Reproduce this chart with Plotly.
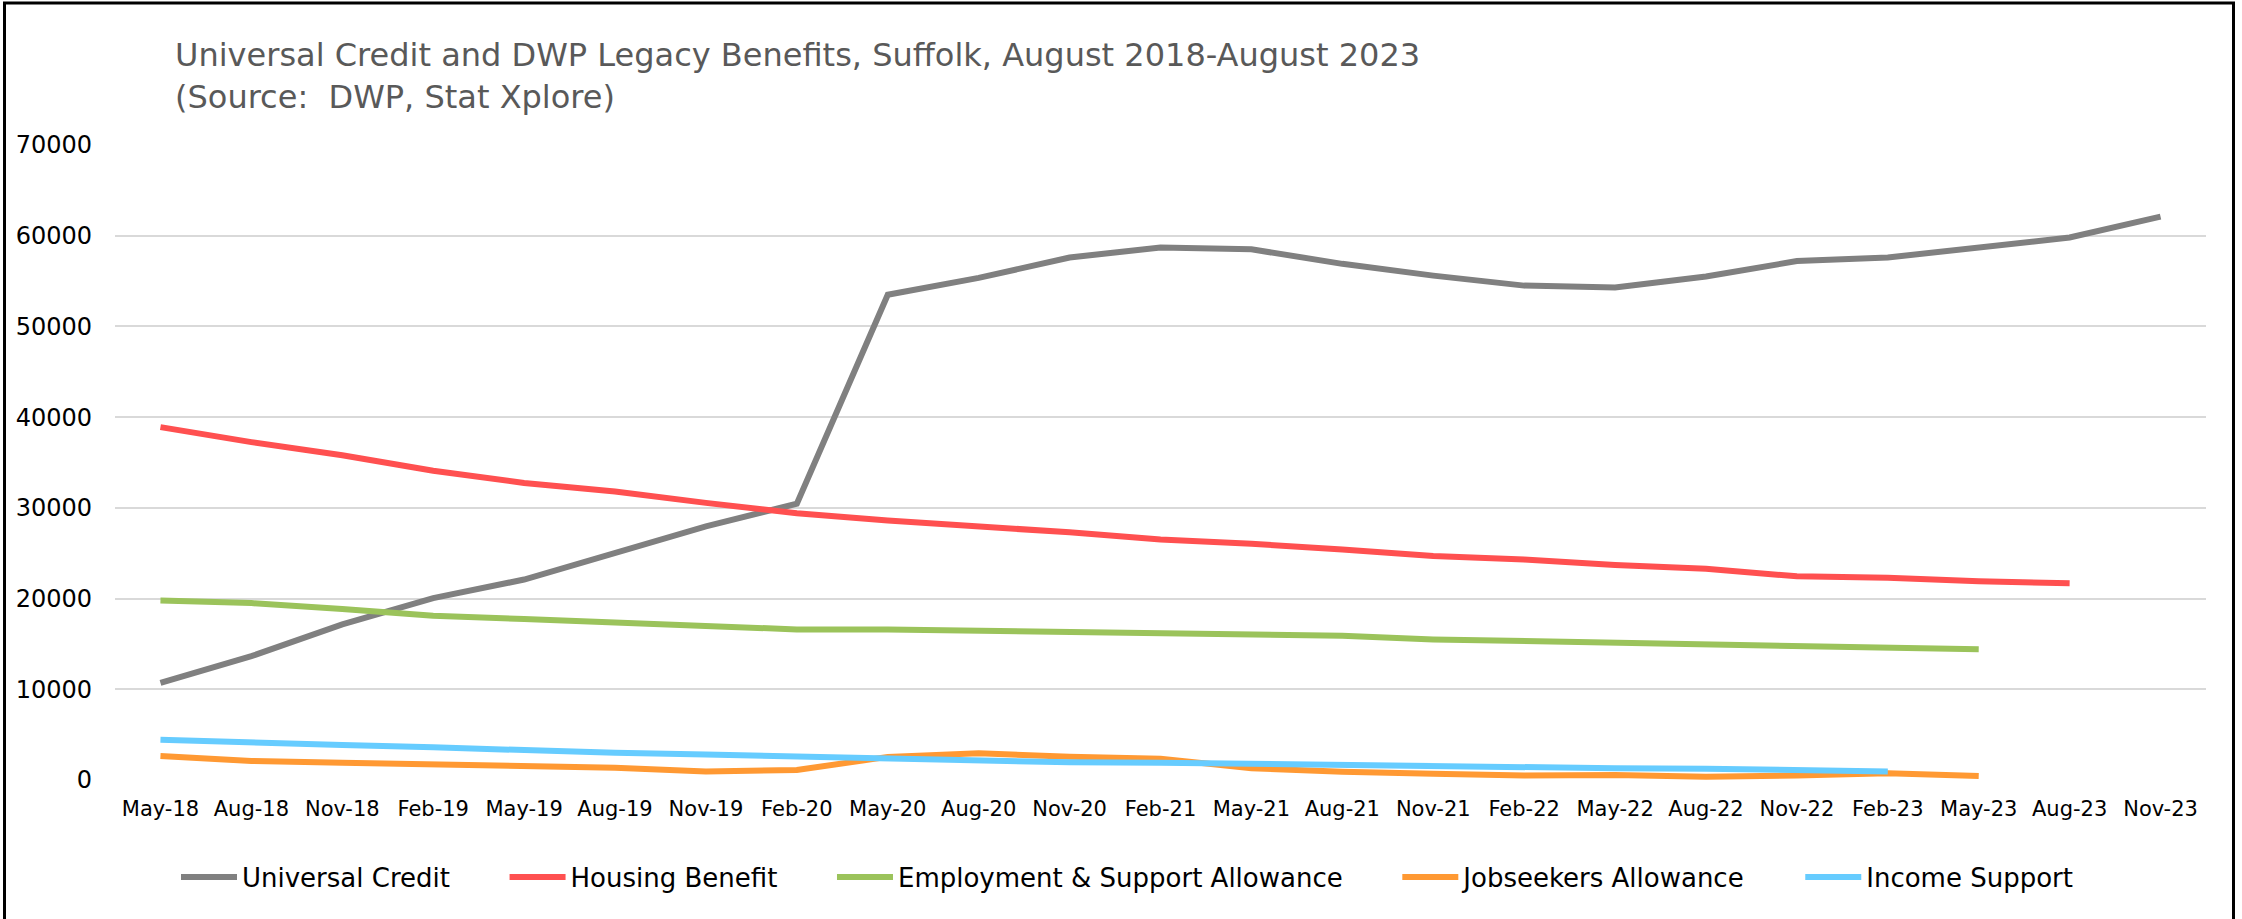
import plotly.graph_objects as go

months = ["May-18", "Aug-18", "Nov-18", "Feb-19", "May-19", "Aug-19", "Nov-19", "Feb-20",
          "May-20", "Aug-20", "Nov-20", "Feb-21", "May-21", "Aug-21", "Nov-21", "Feb-22",
          "May-22", "Aug-22", "Nov-22", "Feb-23", "May-23", "Aug-23", "Nov-23"]

universal_credit = [10700, 13650, 17150, 20050, 22100, 25050, 27950, 30450, 53500, 55350,
                    57600, 58700, 58500, 56900, 55600, 54500, 54300, 55500, 57200, 57600,
                    58700, 59800, 62100]
housing_benefit = [38900, 37250, 35800, 34100, 32750, 31800, 30550, 29400, 28600, 28000,
                   27300, 26500, 26050, 25400, 24700, 24300, 23700, 23300, 22450, 22300,
                   21900, 21700]
esa = [19800, 19500, 18850, 18100, 17750, 17400, 17100, 16600, 16600, 16450, 16250, 16100,
       16000, 15900, 15500, 15300, 15100, 14950, 14800, 14600, 14400]
jsa = [2650, 2100, 1900, 1700, 1550, 1350, 950, 1100, 2550, 2950, 2550, 2350, 1300, 900,
       700, 500, 550, 350, 500, 750, 450]
income_support = [4450, 4100, 3850, 3600, 3250, 3000, 2800, 2550, 2350, 2150, 1950, 1900,
                  1750, 1650, 1600, 1450, 1300, 1250, 1150, 950]

series = [
    ("Universal Credit", universal_credit, "#808080"),
    ("Housing Benefit", housing_benefit, "#FF5050"),
    ("Employment & Support Allowance", esa, "#9BC35B"),
    ("Jobseekers Allowance", jsa, "#FF9933"),
    ("Income Support", income_support, "#66CCFF"),
]

y_ticks = [0, 10000, 20000, 30000, 40000, 50000, 60000, 70000]

FONT = "DejaVu Sans"
PAD = "\u00a0" * 6

fig = go.Figure()
for i, (name, vals, color) in enumerate(series):
    label = name + (PAD if i < len(series) - 1 else "")
    fig.add_trace(go.Scatter(
        x=months[:len(vals)], y=vals, name=label, mode="lines",
        line=dict(color=color, width=6, shape="linear"),
    ))

W, H = 2242, 919
L, R, T, B = 115, 36, 145, 139
pw, ph = W - L - R, H - T - B


def px_to_paper_x(px):
    return (px - L) / pw


def px_to_paper_y(py):
    return (H - B - py) / ph


fig.update_layout(
    width=W, height=H,
    margin=dict(l=L, r=R, t=T, b=B, pad=0),
    paper_bgcolor="white", plot_bgcolor="white",
    font=dict(family=FONT, color="#000000"),
    showlegend=True,
    legend=dict(
        orientation="h", x=px_to_paper_x(1127), xanchor="center",
        y=px_to_paper_y(877), yanchor="middle",
        font=dict(size=26, family=FONT, color="#000000"),
        itemwidth=56, bgcolor="rgba(0,0,0,0)",
    ),
    xaxis=dict(
        type="category", categoryorder="array", categoryarray=months,
        range=[-0.5, len(months) - 0.5],
        showgrid=False, zeroline=False, showline=False, ticks="",
        tickfont=dict(size=21, family=FONT, color="#000000"),
        ticklabelstandoff=14, fixedrange=True,
    ),
    yaxis=dict(
        range=[0, 70000], tickvals=y_ticks, ticktext=[str(v) for v in y_ticks],
        showgrid=True, gridcolor="#D9D9D9", gridwidth=2,
        zeroline=False, showline=False, ticks="",
        tickfont=dict(size=24, family=FONT, color="#000000"),
        ticklabelstandoff=22, fixedrange=True,
    ),
    annotations=[dict(
        text="Universal Credit and DWP Legacy Benefits, Suffolk, August 2018-August 2023<br>(Source:  DWP, Stat Xplore)",
        xref="paper", yref="paper", x=px_to_paper_x(173), y=px_to_paper_y(76),
        xanchor="left", yanchor="middle", align="left", showarrow=False,
        font=dict(size=32, family=FONT, color="#595959"),
    )],
    shapes=[dict(
        type="rect", xref="paper", yref="paper",
        x0=px_to_paper_x(4.5), x1=px_to_paper_x(2233.5),
        y0=px_to_paper_y(940), y1=px_to_paper_y(3),
        line=dict(color="#000000", width=3), fillcolor="rgba(0,0,0,0)", layer="above",
    )],
)

fig.write_html("out.html")
